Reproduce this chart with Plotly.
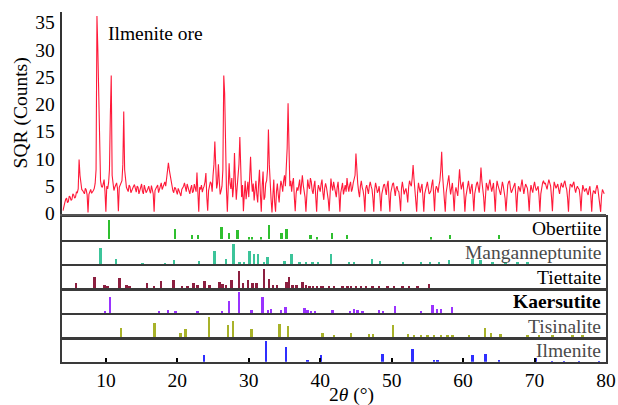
import plotly.graph_objects as go

# ---------------- data ----------------
# Ilmenite ore XRD pattern, SQR(counts): values at 4.00, 4.25, 4.50 ... deg
sqr_counts = [
    0.5, 2.0, 2.8, 2.2, 3.0, 2.6, 3.4, 3.0, 3.8, 9.9, 5.5, 4.2, 3.6, 4.3, 0.2, 4.0, 3.7, 4.2, 5.5, 36.2,
    22.0, 6.0, 4.8, 6.2, 0.3, 4.5, 8.0, 25.3, 5.0, 4.8, 5.6, 0.4, 5.2, 6.0, 18.7, 5.5, 4.4, 5.2, 3.8, 4.6,
    5.3, 3.9, 4.8, 4.2, 5.4, 3.6, 4.7, 4.1, 5.0, 3.7, 4.4, 0.3, 4.6, 5.2, 4.3, 5.6, 4.8, 5.8, 6.3, 9.3,
    7.0, 5.0, 3.8, 4.6, 3.5, 4.2, 3.2, 4.6, 5.6, 4.0, 4.9, 3.6, 5.2, 4.1, 4.8, 7.5, 0.3, 4.4, 3.9, 5.0,
    7.4, 0.5, 4.8, 5.5, 7.0, 13.2, 4.6, 9.0, 3.5, 5.0, 25.3, 9.0, 0.3, 9.2, 4.5, 3.0, 11.1, 2.5, 6.5, 14.0,
    3.0, 0.4, 6.0, 4.5, 3.0, 10.4, 4.0, 2.4, 6.0, 2.0, 8.0, 0.3, 7.7, 3.0, 6.0, 15.4, 4.0, 0.2, 6.2, 0.3,
    5.5, 2.0, 6.0, 4.0, 7.0, 8.5, 20.2, 5.0, 4.0, 6.5, 0.4, 4.8, 5.8, 3.5, 7.0, 4.0, 0.3, 6.2, 4.5, 5.8,
    3.6, 6.0, 0.3, 5.2, 4.0, 6.2, 2.5, 5.5, 3.8, 0.4, 6.4, 4.2, 5.0, 3.0, 5.8, 0.3, 4.6, 3.5, 5.2, 6.5,
    4.0, 5.8, 4.5, 6.4, 11.0, 5.5, 3.0, 6.0, 4.2, 0.3, 5.2, 3.6, 5.8, 4.4, 0.3, 5.6, 3.8, 5.0, 0.4, 4.6,
    5.4, 3.4, 6.0, 0.3, 4.8, 5.6, 3.2, 5.0, 4.0, 0.4, 5.8, 3.5, 4.6, 2.0, 6.0, 5.0, 8.9, 4.4, 0.3, 5.6,
    3.8, 5.4, 0.3, 4.6, 5.8, 3.6, 4.2, 6.2, 0.4, 5.0, 3.8, 6.0, 11.3, 4.6, 0.3, 5.2, 7.0, 3.5, 5.6, 0.4,
    4.8, 3.2, 8.1, 4.4, 5.8, 0.3, 4.2, 6.0, 3.6, 5.4, 0.4, 4.8, 5.8, 3.8, 8.4, 4.6, 0.3, 5.6, 4.2, 6.2,
    4.0, 5.6, 0.3, 6.0, 4.4, 3.4, 5.8, 4.2, 0.4, 5.2, 6.0, 3.8, 4.6, 5.6, 0.3, 5.0, 4.0, 6.2, 3.6, 5.4,
    4.6, 0.4, 5.2, 3.8, 5.8, 4.2, 5.0, 0.3, 4.8, 6.0, 5.6, 4.4, 6.2, 5.0, 0.4, 5.8, 4.6, 5.4, 3.6, 5.6,
    4.8, 6.0, 4.4, 0.3, 5.4, 4.8, 5.8, 3.8, 5.0, 4.4, 0.4, 5.2, 4.0, 4.6, 3.4, 5.0, 0.3, 4.2, 3.6, 5.2,
    3.0, 0.3, 4.4, 3.6,
]
# values read in between, at 4.125, 4.375, 4.625 ... deg
sqr_counts_mid = [
    1.5, 2.6, 2.0, 3.2, 2.4, 3.6, 2.8, 3.9, 4.5, 7.0, 4.4, 3.8, 4.6, 3.4, 3.5, 4.4, 3.9, 4.6, 8.0, 30.0,
    12.0, 5.0, 5.4, 4.0, 5.0, 5.6, 18.0, 7.0, 4.2, 5.2, 4.6, 4.8, 5.6, 9.0, 8.0, 4.8, 4.0, 4.9, 4.3, 5.0,
    4.4, 5.0, 3.6, 4.9, 4.0, 5.2, 3.8, 4.8, 4.2, 5.1, 3.6, 4.2, 5.0, 3.8, 5.0, 4.4, 5.2, 5.0, 7.5, 8.0,
    5.8, 4.2, 4.8, 3.8, 4.6, 3.6, 4.4, 5.0, 4.4, 5.4, 4.2, 4.6, 3.8, 5.4, 4.0, 4.2, 4.8, 5.2, 4.6, 5.8,
    3.0, 4.2, 5.8, 4.0, 9.0, 6.5, 5.5, 5.8, 4.2, 8.0, 22.0, 4.5, 5.0, 5.6, 6.5, 5.0, 6.0, 4.8, 9.0, 7.0,
    5.2, 3.5, 2.6, 5.8, 6.0, 6.2, 5.5, 4.2, 3.5, 5.5, 3.5, 5.0, 2.5, 5.5, 8.0, 9.0, 2.5, 4.0, 2.0, 4.0,
    3.5, 4.5, 5.2, 6.0, 5.0, 12.0, 9.0, 6.0, 5.6, 3.0, 3.6, 4.2, 6.2, 4.8, 5.2, 3.0, 4.0, 5.0, 6.5, 4.2,
    5.0, 3.0, 4.0, 4.6, 5.4, 3.8, 4.6, 4.8, 2.5, 4.2, 5.0, 5.8, 4.0, 4.8, 3.5, 3.8, 5.6, 4.6, 4.0, 5.0,
    5.2, 4.0, 5.6, 7.0, 7.5, 4.0, 5.0, 4.8, 3.0, 4.6, 4.4, 5.0, 5.0, 2.8, 4.4, 4.8, 4.2, 3.0, 3.6, 5.2,
    4.4, 5.2, 3.0, 3.8, 5.4, 4.4, 4.6, 4.2, 2.6, 4.6, 4.6, 4.2, 3.6, 4.8, 5.4, 6.5, 6.4, 2.5, 3.8, 4.6,
    4.8, 3.0, 3.6, 5.4, 4.6, 3.8, 5.4, 3.5, 4.2, 4.6, 5.2, 8.0, 7.0, 3.0, 3.8, 5.8, 5.0, 4.6, 3.2, 3.8,
    4.0, 5.6, 5.8, 5.2, 3.5, 3.0, 5.2, 4.6, 4.8, 3.2, 3.6, 5.4, 4.6, 5.6, 6.0, 3.0, 4.0, 5.0, 5.4, 5.0,
    4.8, 3.2, 4.2, 5.2, 3.8, 4.6, 5.0, 2.8, 3.8, 5.8, 4.6, 4.2, 5.2, 3.4, 3.6, 4.6, 5.2, 4.8, 4.6, 5.0,
    3.0, 3.8, 4.4, 5.0, 4.8, 4.6, 3.2, 3.6, 5.6, 5.4, 5.0, 5.4, 5.6, 3.0, 4.0, 5.2, 5.0, 4.4, 4.8, 5.0,
    5.6, 5.0, 2.8, 4.0, 5.2, 5.4, 4.6, 4.6, 4.6, 3.0, 3.6, 4.6, 4.4, 3.8, 4.4, 3.2, 3.4, 4.0, 4.6, 4.4,
    2.0, 3.2, 4.0,
]
pattern_y = []
for i, v in enumerate(sqr_counts):
    pattern_y.append(v)
    if i < len(sqr_counts_mid):
        pattern_y.append(sqr_counts_mid[i])
two_theta = [round(4.0 + 0.125 * j, 3) for j in range(len(pattern_y))]

# Reference patterns (position 2theta, relative intensity)
obertiite_pos = [10.47, 19.75, 22.1, 23.0, 26.27, 27.3, 28.5, 30.1, 30.56, 31.8, 32.9, 34.66, 35.36,
                 38.7, 39.65, 41.7, 43.85, 55.55, 58.2, 65.1]
obertiite_int = [0.9, 0.47, 0.2, 0.2, 0.55, 0.27, 0.45, 0.09, 0.09, 0.09, 0.64, 0.27, 0.47,
                 0.18, 0.09, 0.3, 0.2, 0.09, 0.2, 0.2]

manganneptunite_pos = [9.3, 11.5, 15.2, 18.35, 19.6, 23.1, 25.3, 26.9, 27.95, 28.8, 29.45, 30.2, 30.8,
                       31.4, 32.2, 32.7, 35.1, 36.06, 37.2, 38.1, 39.0, 39.8, 41.6, 44.1, 44.8, 47.3,
                       48.45, 51.7, 54.15, 55.4, 56.7, 58.07, 61.4, 62.5, 64.2, 66.0, 67.7, 69.1]
manganneptunite_int = [0.74, 0.26, 0.05, 0.05, 0.18, 0.14, 0.62, 0.26, 0.92, 0.1, 0.08, 0.6, 0.46,
                       0.46, 0.1, 0.34, 0.15, 0.46, 0.08, 0.08, 0.1, 0.08, 0.46, 0.1, 0.1, 0.23,
                       0.15, 0.1, 0.1, 0.1, 0.1, 0.18, 0.26, 0.18, 0.1, 0.1, 0.1, 0.1]

tiettaite_pos = [5.9, 8.5, 9.86, 10.3, 11.96, 12.98, 13.36, 15.83, 16.85, 17.8, 19.55, 20.7, 21.5, 22.35,
                 22.9, 23.9, 24.6, 26.0, 26.4, 26.9, 27.66, 28.74, 29.3, 30.0, 30.6, 31.16, 32.24, 32.9,
                 33.5, 34.0, 35.36, 35.7, 36.2, 36.76, 37.6, 38.07, 38.57, 39.05, 39.6, 40.17, 40.4,
                 41.3, 42.0, 43.2, 43.9, 44.4, 45.1, 45.8, 46.5, 47.4, 48.3, 49.5, 50.4, 51.6, 52.5,
                 53.7, 55.3]
tiettaite_int = [0.25, 0.5, 0.15, 0.1, 0.46, 0.13, 0.08, 0.25, 0.1, 0.33, 0.4, 0.08, 0.08, 0.25,
                 0.13, 0.35, 0.13, 0.28, 0.2, 0.13, 0.37, 0.82, 0.25, 0.37, 0.25, 0.25, 0.87, 0.42,
                 0.13, 0.13, 0.3, 0.52, 0.13, 0.13, 0.28, 0.13, 0.1, 0.1, 0.1, 0.08, 0.08,
                 0.1, 0.08, 0.1, 0.08, 0.1, 0.08, 0.08, 0.1, 0.08, 0.1, 0.08, 0.1, 0.08, 0.1,
                 0.08, 0.2]

kaersutite_pos = [9.96, 10.66, 17.55, 18.8, 19.8, 22.9, 26.36, 27.3, 28.7, 30.46, 32.0, 32.8, 33.2,
                  34.57, 35.2, 37.87, 38.3, 38.77, 39.37, 41.8, 44.2, 44.8, 45.3, 46.0, 48.3, 48.9,
                  50.5, 54.15, 55.8, 56.4, 56.95, 58.5]
kaersutite_int = [0.12, 0.77, 0.12, 0.15, 0.09, 0.09, 0.12, 0.58, 0.97, 0.15, 0.74, 0.15, 0.2,
                  0.15, 0.3, 0.23, 0.15, 0.12, 0.12, 0.15, 0.09, 0.2, 0.15, 0.09, 0.15, 0.09,
                  0.35, 0.09, 0.38, 0.2, 0.2, 0.3]

tisinalite_pos = [12.2, 16.9, 20.5, 21.2, 24.5, 27.2, 27.86, 30.46, 34.4, 35.6, 40.4, 42.0, 44.4, 46.9,
                  47.5, 50.3, 52.4, 53.2, 54.2, 55.1, 56.0, 56.95, 57.9, 58.6, 60.9, 63.1, 64.0, 65.3,
                  69.1, 70.7, 72.6, 75.4, 76.8]
tisinalite_int = [0.43, 0.67, 0.18, 0.37, 0.92, 0.58, 0.73, 0.37, 0.6, 0.5, 0.18, 0.1, 0.18, 0.15,
                  0.15, 0.55, 0.15, 0.12, 0.12, 0.12, 0.12, 0.12, 0.12, 0.12, 0.1, 0.43, 0.18, 0.15,
                  0.1, 0.1, 0.1, 0.1, 0.1]

ilmenite_pos = [23.85, 32.5, 35.3, 38.3, 40.2, 48.8, 53.0, 56.0, 56.5, 61.4, 63.2, 65.1, 70.2, 72.5,
                74.2, 76.3, 79.1]
ilmenite_int = [0.35, 1.0, 0.7, 0.08, 0.35, 0.4, 0.6, 0.08, 0.08, 0.33, 0.4, 0.08, 0.2, 0.06,
                0.06, 0.06, 0.06]

phase_names = ["Obertiite", "Manganneptunite", "Tiettaite", "<b>Kaersutite</b>", "Tisinalite", "Ilmenite"]
phase_pos = [obertiite_pos, manganneptunite_pos, tiettaite_pos, kaersutite_pos, tisinalite_pos, ilmenite_pos]
phase_int = [obertiite_int, manganneptunite_int, tiettaite_int, kaersutite_int, tisinalite_int, ilmenite_int]
phase_colors = ["#2fbf2f", "#3cc49a", "#8c1f40", "#9a33ff", "#a8b22a", "#2f2fff"]
label_colors = ["#000000", "#4a4a4a", "#000000", "#000000", "#4a4a4a", "#4a4a4a"]

x_ticks = [10, 20, 30, 40, 50, 60, 70, 80]
y_ticks = [0, 5, 10, 15, 20, 25, 30, 35]

# ---------------- layout ----------------
W, H = 618, 405
FONT = "Liberation Serif"
FS = 19.5
X_RANGE = [3.9, 80.0]
x_dom = [62.3 / W, 606 / W]

def py(px):
    return 1 - px / H

main_dom = [py(214.0), py(11.7)]
panel_tops = [217.3, 241.7, 266.2, 290.7, 315.2, 339.5]
panel_h = 22.2

fig = go.Figure()

fig.add_trace(go.Scatter(
    x=two_theta, y=pattern_y, mode="lines",
    line=dict(color="rgba(255,5,40,0.92)", width=1.1),
    xaxis="x7", yaxis="y7", showlegend=False, hoverinfo="skip"))

layout = dict(
    width=W, height=H, autosize=False,
    margin=dict(l=0, r=0, t=0, b=0, pad=0),
    paper_bgcolor="white", plot_bgcolor="white",
    font=dict(family=FONT, size=FS, color="black"),
    showlegend=False,
    bargap=0,
)

layout["xaxis7"] = dict(domain=x_dom, range=X_RANGE, anchor="y7", showticklabels=False,
                        ticks="", showgrid=False, zeroline=False, showline=True, automargin=False,
                        linecolor="#555555", linewidth=2)
layout["yaxis7"] = dict(domain=main_dom, range=[-0.1, 37], anchor="x7", showgrid=False,
                        zeroline=False, showline=True, linecolor="#333333", linewidth=1.5,
                        tickvals=y_ticks, ticks="", ticklabelstandoff=2, automargin=False,
                        tickfont=dict(size=FS, family=FONT),
                        title=dict(text="SQR (Counts)", font=dict(size=FS, family=FONT), standoff=2))

annotations = [
    dict(x=10.0, y=33.0, xref="x7", yref="y7", text="Ilmenite ore", showarrow=False,
         xanchor="left", yanchor="middle", font=dict(size=FS, family=FONT, color="black")),
    dict(x=351 / W, y=py(395), xref="paper", yref="paper", text="2<i>θ</i> (°)",
         showarrow=False, xanchor="center", yanchor="middle",
         font=dict(size=FS, family=FONT, color="black")),
]

for i, name in enumerate(phase_names):
    k = i + 1
    xa = "x" if k == 1 else f"x{k}"
    ya = "y" if k == 1 else f"y{k}"
    fig.add_trace(go.Bar(
        x=phase_pos[i], y=phase_int[i], width=0.26,
        marker=dict(color=phase_colors[i], line=dict(width=0)),
        xaxis=xa, yaxis=ya, showlegend=False, hoverinfo="skip"))
    top = panel_tops[i]
    dom = [py(top + panel_h), py(top)]
    is_bottom = (i == len(phase_names) - 1)
    xkey = "xaxis" if k == 1 else f"xaxis{k}"
    ykey = "yaxis" if k == 1 else f"yaxis{k}"
    xdef = dict(domain=x_dom, range=X_RANGE, anchor=ya, showgrid=False, zeroline=False,
                automargin=False, showline=True, mirror=True, linecolor="#3a3a3a", linewidth=2)
    if is_bottom:
        xdef.update(tickvals=x_ticks, ticks="inside", ticklen=4, tickcolor="black", tickwidth=1.5,
                    showticklabels=True, tickfont=dict(size=FS, family=FONT),
                    ticklabelstandoff=0)
    else:
        xdef.update(showticklabels=False, ticks="")
    layout[xkey] = xdef
    layout[ykey] = dict(domain=dom, range=[0, 1.03], anchor=xa, showgrid=False, zeroline=False,
                        automargin=False, showticklabels=False, ticks="", showline=True, mirror=True,
                        linecolor="#3a3a3a", linewidth=2)
    annotations.append(dict(x=0.995, y=0.5, xref=f"{xa} domain", yref=f"{ya} domain", text=name,
                            showarrow=False, xanchor="right", yanchor="middle",
                            font=dict(size=FS, family=FONT, color=label_colors[i])))

layout["annotations"] = annotations
fig.update_layout(**layout)
fig.write_html("out.html", config={"displayModeBar": False},
               post_script="document.body.style.margin='0px';document.body.style.overflow='hidden';")
